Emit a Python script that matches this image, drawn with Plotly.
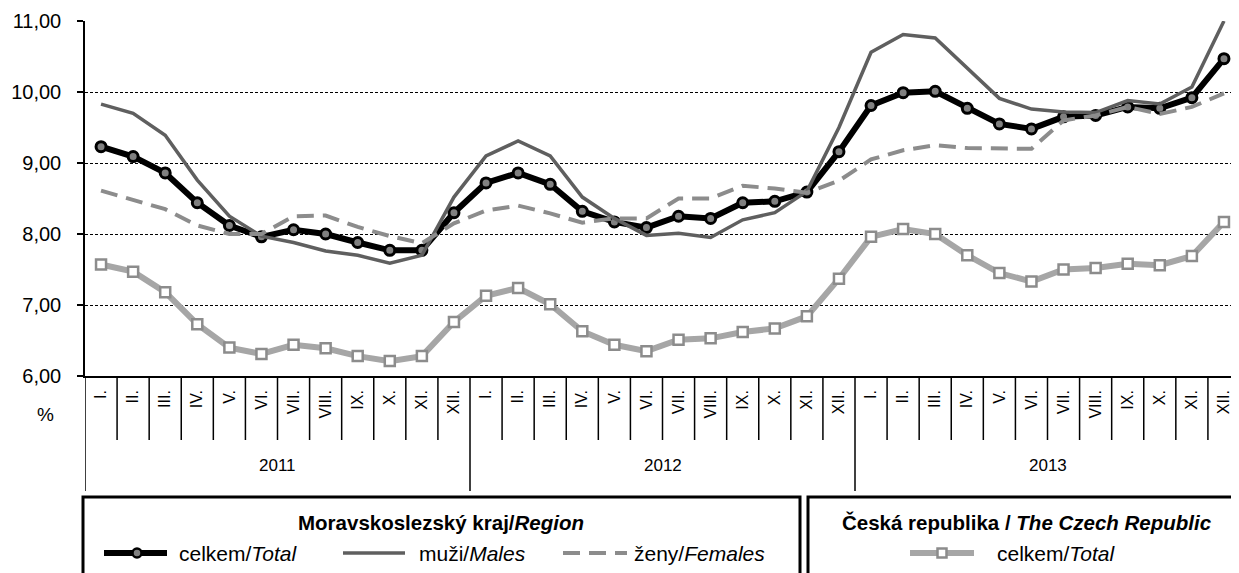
import plotly.graph_objects as go

months = ["I.", "II.", "III.", "IV.", "V.", "VI.", "VII.", "VIII.", "IX.", "X.", "XI.", "XII."]
years = ["2011", "2012", "2013"]
month_labels = months * len(years)

total = [9.23, 9.09, 8.86, 8.44, 8.12, 7.96, 8.06, 8.00, 7.88, 7.77, 7.77, 8.30,
         8.72, 8.86, 8.70, 8.32, 8.17, 8.09, 8.25, 8.22, 8.44, 8.46, 8.59, 9.16,
         9.81, 9.99, 10.01, 9.77, 9.55, 9.48, 9.65, 9.67, 9.79, 9.77, 9.92, 10.47]
males = [9.83, 9.70, 9.39, 8.76, 8.25, 7.97, 7.88, 7.76, 7.70, 7.59, 7.70, 8.52,
         9.10, 9.31, 9.10, 8.52, 8.22, 7.98, 8.01, 7.95, 8.20, 8.30, 8.60, 9.50,
         10.56, 10.81, 10.76, 10.33, 9.91, 9.76, 9.72, 9.71, 9.88, 9.83, 10.07, 11.00]
females = [8.61, 8.48, 8.35, 8.12, 8.00, 8.00, 8.25, 8.26, 8.10, 7.97, 7.87, 8.15,
           8.33, 8.40, 8.29, 8.16, 8.22, 8.22, 8.50, 8.50, 8.68, 8.64, 8.58, 8.75,
           9.05, 9.18, 9.25, 9.21, 9.20, 9.20, 9.60, 9.67, 9.79, 9.69, 9.79, 9.98]
czech = [7.57, 7.47, 7.18, 6.73, 6.40, 6.31, 6.44, 6.39, 6.28, 6.21, 6.28, 6.76,
         7.13, 7.24, 7.01, 6.63, 6.44, 6.35, 6.51, 6.53, 6.62, 6.67, 6.84, 7.37,
         7.96, 8.07, 8.00, 7.70, 7.45, 7.33, 7.50, 7.52, 7.58, 7.56, 7.69, 8.17]

n = len(month_labels)
xs = list(range(n))

FONT = "Liberation Sans, Arial, sans-serif"
C_TOTAL = "#000000"
C_MARK = "#808080"
C_MALES = "#5f5f5f"
C_FEM = "#8c8c8c"
C_CZ = "#a6a6a6"
C_CZ_MARK = "#8c8c8c"
FEM_DASH = "17px,9px"

# page geometry (the page body has an 8px margin)
O = 8
PL, PR, PT, PB = 85, 1240, 21, 376
PAGE_H = 573
W = PR - O
H = PAGE_H - O
ML, MR, MT = PL - O, 0, PT - O
MB = H - MT - (PB - PT)


def px_x(p):
    return (p - PL) / (PR - PL)


def px_y(p):
    return (PB - p) / (PB - PT)


fig = go.Figure()
fig.add_trace(go.Scatter(x=xs, y=total, mode="lines+markers", name="celkem/Total",
                         line=dict(color=C_TOTAL, width=6),
                         marker=dict(symbol="circle", size=10, color=C_MARK,
                                     line=dict(color=C_TOTAL, width=3))))
fig.add_trace(go.Scatter(x=xs, y=males, mode="lines", name="muži/Males",
                         line=dict(color=C_MALES, width=3.5)))
fig.add_trace(go.Scatter(x=xs, y=females, mode="lines", name="ženy/Females",
                         line=dict(color=C_FEM, width=4, dash=FEM_DASH)))
fig.add_trace(go.Scatter(x=xs, y=czech, mode="lines+markers", name="ČR celkem/Total",
                         line=dict(color=C_CZ, width=6),
                         marker=dict(symbol="square", size=10, color="white",
                                     line=dict(color=C_CZ_MARK, width=2.5))))

shapes = []
# month / year dividers
for b in range(n + 1):
    is_year = (b % len(months) == 0)
    shapes.append(dict(type="line", xref="x", yref="paper", x0=b - 0.5, x1=b - 0.5,
                       y0=0, y1=px_y(491 if is_year else 440),
                       line=dict(color="black", width=1.5), layer="above"))

# legend boxes
ytop, ybot = px_y(497), px_y(590)
shapes.append(dict(type="rect", xref="paper", yref="paper", x0=px_x(83), x1=px_x(800),
                   y0=ybot, y1=ytop, line=dict(color="black", width=3)))
shapes.append(dict(type="rect", xref="paper", yref="paper", x0=px_x(808), x1=px_x(1255),
                   y0=ybot, y1=ytop, line=dict(color="black", width=3)))

ey = px_y(553)
# legend samples
shapes.append(dict(type="line", xref="paper", yref="paper", x0=px_x(104), x1=px_x(167),
                   y0=ey, y1=ey, line=dict(color=C_TOTAL, width=6)))
shapes.append(dict(type="circle", xref="paper", yref="paper", xsizemode="pixel", ysizemode="pixel",
                   xanchor=px_x(137), yanchor=ey, x0=-4.5, x1=4.5, y0=-4.5, y1=4.5,
                   fillcolor=C_MARK, line=dict(color=C_TOTAL, width=2.5)))
shapes.append(dict(type="line", xref="paper", yref="paper", x0=px_x(343), x1=px_x(405),
                   y0=ey, y1=ey, line=dict(color=C_MALES, width=3.5)))
shapes.append(dict(type="line", xref="paper", yref="paper", x0=px_x(563), x1=px_x(627),
                   y0=ey, y1=ey, line=dict(color=C_FEM, width=4, dash=FEM_DASH)))
shapes.append(dict(type="line", xref="paper", yref="paper", x0=px_x(910), x1=px_x(974),
                   y0=ey, y1=ey, line=dict(color=C_CZ, width=6)))
shapes.append(dict(type="rect", xref="paper", yref="paper", xsizemode="pixel", ysizemode="pixel",
                   xanchor=px_x(942), yanchor=ey, x0=-4.5, x1=4.5, y0=-4.5, y1=4.5,
                   fillcolor="white", line=dict(color=C_CZ_MARK, width=2.5)))

annotations = []
for i, yr in enumerate(years):
    annotations.append(dict(x=i * len(months) + (len(months) - 1) / 2, y=px_y(465),
                            xref="x", yref="paper", text=yr, showarrow=False,
                            font=dict(size=17, family=FONT, color="black"),
                            xanchor="center", yanchor="middle"))
annotations.append(dict(x=px_x(45), y=px_y(414), xref="paper", yref="paper", text="%",
                        showarrow=False, font=dict(size=19, family=FONT, color="black"),
                        xanchor="center", yanchor="middle"))
annotations.append(dict(x=px_x(441), y=px_y(522), xref="paper", yref="paper",
                        text="<b>Moravskoslezský kraj/<i>Region</i></b>", showarrow=False,
                        font=dict(size=20.5, family=FONT, color="black"),
                        xanchor="center", yanchor="middle"))
annotations.append(dict(x=px_x(1027), y=px_y(522), xref="paper", yref="paper",
                        text="<b>Česká republika / <i>The Czech Republic</i></b>", showarrow=False,
                        font=dict(size=20.5, family=FONT, color="black"),
                        xanchor="center", yanchor="middle"))
for xp, txt in [(177, "celkem/<i>Total</i>"), (417, "muži/<i>Males</i>"),
                (632, "ženy/<i>Females</i>"), (995, "celkem/<i>Total</i>")]:
    annotations.append(dict(x=px_x(xp), y=ey, xref="paper", yref="paper", text=txt,
                            showarrow=False, font=dict(size=21, family=FONT, color="black"),
                            xanchor="left", yanchor="middle"))

fig.update_layout(
    width=W, height=H,
    margin=dict(l=ML, r=MR, t=MT, b=MB, pad=0),
    paper_bgcolor="white", plot_bgcolor="white",
    showlegend=False,
    separators=", ",
    font=dict(family=FONT, color="black"),
    shapes=shapes,
    annotations=annotations,
    xaxis=dict(range=[-0.5, n - 0.5], tickmode="array", tickvals=xs, ticktext=month_labels,
               tickangle=-90, ticks="", showgrid=False, zeroline=False,
               showline=True, linecolor="black", linewidth=1.5,
               tickfont=dict(size=16, family=FONT, color="black"), ticklabelstandoff=6),
    yaxis=dict(range=[6, 11], tickmode="linear", tick0=6, dtick=1, tickformat=".2f",
               showgrid=True, gridcolor="black", gridwidth=1, griddash="3px,2px",
               zeroline=False, showline=True, linecolor="black", linewidth=1.5,
               ticks="outside", ticklen=6, tickcolor="black", tickwidth=1.5,
               tickfont=dict(size=20, family=FONT, color="black"), ticklabelstandoff=12),
)

fig.write_html("out.html")
